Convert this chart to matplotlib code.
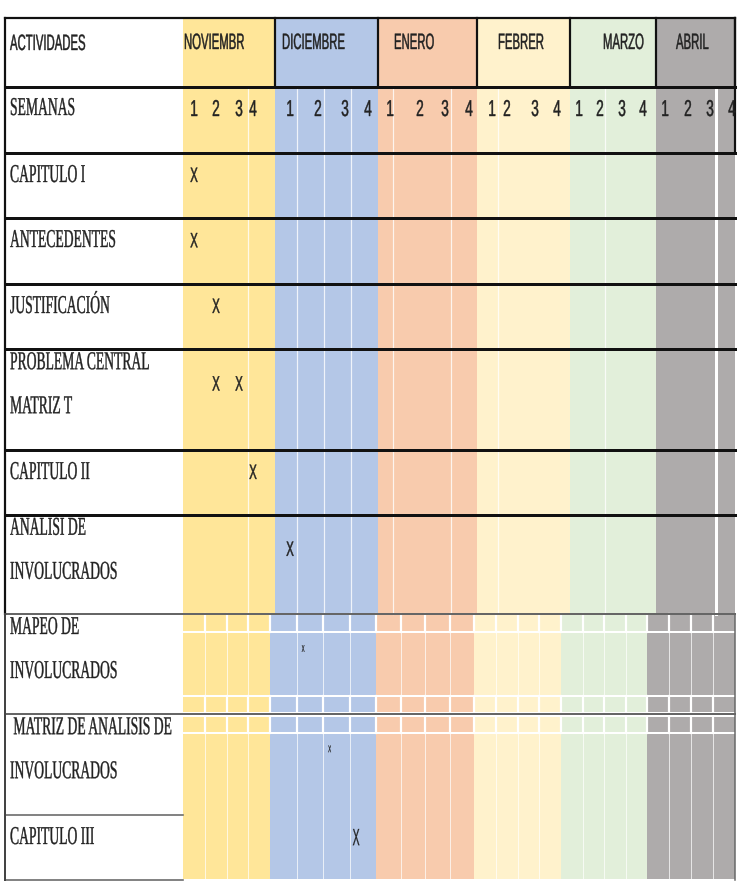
import numpy as np
import matplotlib
matplotlib.use("Agg")
import matplotlib.pyplot as plt
from matplotlib.patches import Rectangle
from matplotlib.patheffects import AbstractPathEffect
from matplotlib.transforms import Affine2D

# ---- datos del cronograma ----
meses = ["NOVIEMBR", "DICIEMBRE", "ENERO", "FEBRER", "MARZO", "ABRIL"]
semanas = ["1", "2", "3", "4"]
actividades = ["CAPITULO I", "ANTECEDENTES", "JUSTIFICACIÓN",
               "PROBLEMA CENTRAL\nMATRIZ T", "CAPITULO II",
               "ANALISI DE\nINVOLUCRADOS", "MAPEO DE\nINVOLUCRADOS",
               " MATRIZ DE ANALISIS DE\nINVOLUCRADOS", "CAPITULO III"]
# cada X: actividad y semana (contando desde la semana 1 de noviembre)
marca_actividad = [0, 1, 2, 3, 3, 4, 5, 6, 7, 8]
marca_semana = [0, 0, 1, 1, 2, 3, 4, 5, 6, 7]

# ---- estilo ----
colores_mes = ["#FFE699", "#B4C7E7", "#F8CBAD", "#FFF2CC", "#E2EFDA", "#AEABAB"]
sans = ["Liberation Sans", "DejaVu Sans"]
serif = ["Liberation Serif", "DejaVu Serif"]
tinta = "#222222"

# ---- layout (pixeles de la imagen) ----
W, H = 740, 890
izq, der, arriba = 5, 735, 18
fin_cab1, fin_cab2 = 87, 153
bordes_filas = [153, 218, 284, 349, 450, 515, 614, 714, 815, 880]
filas_abajo = 6  # desde MAPEO la tabla pegada cambia de grilla
mes_arriba = [183, 275, 378, 477, 570, 656, 735]
mes_abajo = [183, 270, 376, 474, 561, 647, 735]
x_txt_mes = [184, 282, 394, 498, 603, 676]
x_semanas = [194, 216, 239, 253, 290, 318, 345, 368, 390, 420, 445, 469,
             492, 507, 535, 557, 579, 600, 622, 643, 665, 688, 710, 732]
lineas_blancas = [248, 297, 324, 351, 393, 451, 498, 605]
franjas = [(614, 632), (696, 713), (716, 733)]
tam_x = {6: 7, 7: 7, 8: 17}


class Alto(AbstractPathEffect):
    """Estira el texto en vertical: la imagen original esta aplastada a lo ancho."""

    def __init__(self, sy, va="baseline", grosor=0.0):
        super().__init__()
        self.sy = sy
        self.va = va
        self.grosor = grosor

    def draw_path(self, renderer, gc, tpath, affine, rgbFace=None):
        ext = tpath.get_extents()
        y0 = 0 if self.va == "baseline" else (ext.y0 + ext.y1) / 2
        t = Affine2D().translate(0, -y0).scale(1, self.sy).translate(0, y0)
        gc0 = renderer.new_gc()
        gc0.copy_properties(gc)
        gc0.set_linewidth(self.grosor)
        gc0.set_foreground(rgbFace)
        renderer.draw_path(gc0, tpath, t + affine, rgbFace)
        gc0.restore()


def px(p):
    return p * 72 / 100


def texto(x, y, s, size, sx, family, ha="left", va="baseline", grosor=0.25):
    # size = tamano de la altura; el ancho queda en size*sx
    ax.text(x, y, s, fontsize=size * sx, family=family, ha=ha, va=va, color=tinta,
            zorder=5, path_effects=[Alto(1 / sx, va, grosor)])


fig = plt.figure(figsize=(W / 100, H / 100), dpi=100)
ax = fig.add_axes([0, 0, 1, 1])
ax.set_xlim(0, W)
ax.set_ylim(H, 0)
ax.axis("off")

# fondos de los meses
for i in range(len(meses)):
    ax.add_patch(Rectangle((mes_arriba[i], arriba), mes_arriba[i + 1] - mes_arriba[i],
                           bordes_filas[filas_abajo] - arriba, color=colores_mes[i], lw=0, zorder=1))
    ax.add_patch(Rectangle((mes_abajo[i], bordes_filas[filas_abajo]), mes_abajo[i + 1] - mes_abajo[i],
                           bordes_filas[-1] - bordes_filas[filas_abajo] - 1, color=colores_mes[i], lw=0, zorder=1))

# divisiones blancas de semanas (parte de arriba)
for x in lineas_blancas:
    ax.plot([x, x], [fin_cab1, bordes_filas[filas_abajo]], color="white", lw=px(1.2), alpha=0.8, zorder=2)
ax.plot([716, 716], [fin_cab1, bordes_filas[filas_abajo]], color="white", lw=px(3), zorder=2)

# grilla de la tabla pegada (parte de abajo)
bordes_sem = []
for i in range(len(meses)):
    e = np.linspace(mes_abajo[i], mes_abajo[i + 1], len(semanas) + 1)
    bordes_sem.extend(e[:-1])
    for x in e[1:-1]:
        ax.plot([x, x], [bordes_filas[filas_abajo], bordes_filas[-1]], color="white", lw=px(1),
                alpha=0.7, zorder=2)
bordes_sem.append(mes_abajo[-1])
for y0, y1 in franjas:
    ax.plot([mes_abajo[0], der], [y0, y0], color="white", lw=px(2), zorder=2)
    ax.plot([mes_abajo[0], der], [y1, y1], color="white", lw=px(2), zorder=2)
    for x in bordes_sem[1:-1]:
        ax.plot([x, x], [y0, y1], color="white", lw=px(2.2), zorder=2)

# bordes negros
negro = "#111111"
gris = "#666666"
ax.plot([izq, der], [arriba, arriba], color=negro, lw=px(2.2), zorder=3)
for x in mes_arriba[1:]:
    ax.plot([x, x], [arriba, fin_cab1], color=negro, lw=px(2.2), zorder=3)
ax.plot([der, der], [arriba, fin_cab2], color=negro, lw=px(2.2), zorder=3)
for y in [fin_cab1] + bordes_filas[:filas_abajo]:
    ax.plot([izq, der], [y, y], color=negro, lw=px(3), zorder=3)
for y in bordes_filas[filas_abajo:filas_abajo + 2]:
    ax.plot([izq, der], [y, y], color=gris, lw=px(2), zorder=3)
for y in bordes_filas[filas_abajo + 2:]:
    ax.plot([izq, mes_abajo[0]], [y, y], color=gris, lw=px(1.6), zorder=3)
ax.plot([izq, izq], [arriba, bordes_filas[filas_abajo]], color=negro, lw=px(2.2), zorder=3)
ax.plot([izq, izq], [bordes_filas[filas_abajo], bordes_filas[-1]], color="#444444", lw=px(2), zorder=3)
ax.plot([der, der], [bordes_filas[filas_abajo], bordes_filas[-1]], color=gris, lw=px(1.5), zorder=3)

# encabezados
texto(10, 50, "ACTIVIDADES", 16, 0.51, sans, grosor=0.3)
for i, m in enumerate(meses):
    texto(x_txt_mes[i], 49, m, 16, 0.51, sans, grosor=0.3)
texto(10, 115, "SEMANAS", 18.5, 0.53, serif)
for k, x in enumerate(x_semanas):
    texto(x, 116, semanas[k % len(semanas)], 16.5, 0.6, sans, ha="center", grosor=0.3)

# actividades
for i, act in enumerate(actividades):
    top, bot = bordes_filas[i], bordes_filas[i + 1]
    lineas = act.split("\n")
    if len(lineas) == 1:
        texto(10, top + 29, lineas[0], 18.5, 0.53, serif)
    else:
        y = top + 0.2 * (bot - top)
        for j, l in enumerate(lineas):
            texto(10, y + 44 * j, l, 18.5, 0.53, serif)

# marcas X
for a, s in zip(marca_actividad, marca_semana):
    top, bot = bordes_filas[a], bordes_filas[a + 1]
    y = top + 0.35 * (bot - top)
    if a < filas_abajo:
        x = x_semanas[s]
    else:
        x = bordes_sem[s] + 0.25 * (bordes_sem[s + 1] - bordes_sem[s])
    size = tam_x.get(a, 15)
    texto(x, y, "X", size, 0.55 if size == 15 else 0.45, sans, ha="center", va="center",
          grosor=0.3 if size == 15 else 0.15)

fig.savefig("out.png", dpi=100)
